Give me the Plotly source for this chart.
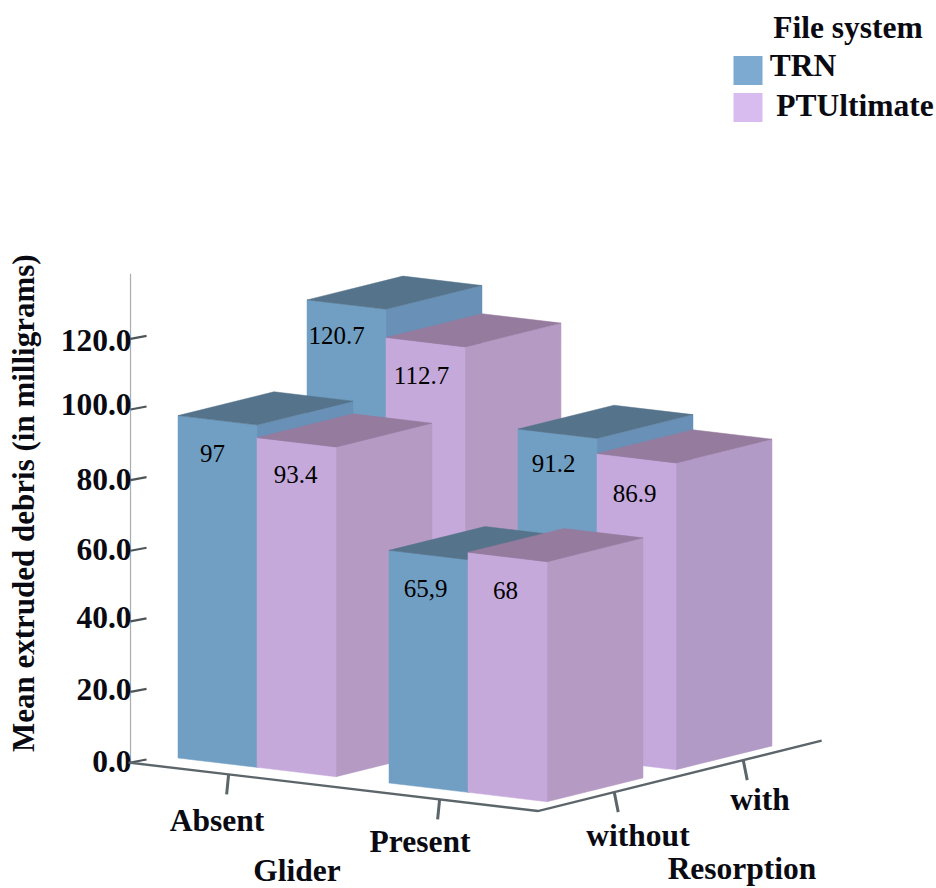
import plotly.graph_objects as go

# ---- data ----
GLIDER = ["Absent", "Present"]
RESORPTION = ["without", "with"]
FILE_SYSTEMS = ["TRN", "PTUltimate"]
TRN_WITHOUT = [97, 65.9]
TRN_WITH = [120.7, 91.2]
PT_WITHOUT = [93.4, 68]
PT_WITH = [112.7, 86.9]
TRN_LABELS = {"without": ["97", "65,9"], "with": ["120.7", "91.2"]}
PT_LABELS = {"without": ["93.4", "68"], "with": ["112.7", "86.9"]}
Y_TICKS = [0, 20, 40, 60, 80, 100, 120]
Y_TICK_TEXT = ["0.0", "20.0", "40.0", "60.0", "80.0", "100.0", "120.0"]
Y_TITLE = "Mean extruded debris (in milligrams)"
LEGEND_TITLE = "File system"

# ---- style ----
SERIF = "Liberation Serif"
BLUE = dict(front="#719fc3", side="#6990b6", top="#55738b")
PINK = dict(front="#c6a9db", side="#b59ac4", top="#957b9e")
PINK_RIGHT = dict(front="#c5a9dc", side="#b29ac6", top="#957b9e")
AXIS = "#5c666a"
INK = "#0a0a12"
BOLD_SIZE = 31.5
TICK_NUDGE = [2, 0, -1, 1, 2, -2, 4]
TEXT_SHIFT = 2

# ---- oblique projection: (glider pos, resorption pos, value) -> picture position ----
OX, OY = 178, 758
GX, GY = 211, 25
RX, RY = 129, -32
VY = 3.53
BAR_W, BAR_D = 0.3744, 0.744
FLOOR_X0, FLOOR_X1 = -0.1, 1.84
FLOOR_Y0, FLOOR_Y1 = -0.22, 1.98
Y_TOP = 138.5


def P(g, r, v=0.0):
    return OX + GX * g + RX * r, OY + GY * g + RY * r - VY * v


def poly(points, color, name):
    xs, ys = zip(*(points + points[:1]))
    return go.Scatter(x=xs, y=ys, mode="lines", fill="toself", fillcolor=color,
                      line=dict(color=color, width=0.5), hoverinfo="skip",
                      showlegend=False, name=name)


def line(points, color, width, name):
    xs, ys = zip(*points)
    return go.Scatter(x=xs, y=ys, mode="lines", line=dict(color=color, width=width),
                      hoverinfo="skip", showlegend=False, name=name)


def text(x, y, s, size, bold=False, color="black", name=None):
    return go.Scatter(x=[x], y=[y + TEXT_SHIFT], mode="text", text=[s], textposition="middle center",
                      textfont=dict(family=SERIF, size=size, color=color,
                                    weight="bold" if bold else "normal"),
                      cliponaxis=False, hoverinfo="skip", showlegend=False, name=name or s)


fig = go.Figure()

# y axis
x_axis0, y_axis0 = P(FLOOR_X0, FLOOR_Y0)
fig.add_trace(go.Scatter(x=[x_axis0 + 2, x_axis0 + 2], y=[y_axis0, y_axis0 - VY * Y_TOP], mode="lines",
                         line=dict(color="#a9adb0", width=1.2), hoverinfo="skip",
                         showlegend=False, name="y axis"))
for t, lab, nudge in zip(Y_TICKS, Y_TICK_TEXT, TICK_NUDGE):
    yy = y_axis0 - VY * t
    fig.add_trace(line([(x_axis0 + 2, yy), (x_axis0 + 18, yy - 3)], "#4d5558", 2.2, "tick " + lab))
    fig.add_trace(go.Scatter(x=[x_axis0 + 3], y=[yy + nudge], mode="text", text=[lab],
                             textposition="middle left",
                             textfont=dict(family=SERIF, size=BOLD_SIZE, color=INK, weight="bold"),
                             hoverinfo="skip", showlegend=False, name=lab))

# floor axes
fig.add_trace(line([P(FLOOR_X0, FLOOR_Y0), P(FLOOR_X1, FLOOR_Y0), P(FLOOR_X1, FLOOR_Y1)],
                   AXIS, 2.4, "floor axes"))
for i, g in enumerate(GLIDER):
    bx, by = P(i + BAR_W, FLOOR_Y0)
    fig.add_trace(line([(bx, by), (bx - 2, by + 20)], AXIS, 3, "tick " + g))
for j, r in enumerate(RESORPTION):
    bx, by = P(FLOOR_X1, j + BAR_D / 2)
    fig.add_trace(line([(bx, by), (bx + 4, by + 20)], AXIS, 3, "tick " + r))

# bars, back to front
BARS = [
    (1, 0, 0, TRN_WITH[0], BLUE, TRN_LABELS["with"][0], (-10, 31)),
    (1, 0, 1, PT_WITH[0], PINK, PT_LABELS["with"][0], (-4, 34)),
    (1, 1, 0, TRN_WITH[1], BLUE, TRN_LABELS["with"][1], (-4, 30)),
    (1, 1, 1, PT_WITH[1], PINK_RIGHT, PT_LABELS["with"][1], (-2, 35)),
    (0, 0, 0, TRN_WITHOUT[0], BLUE, TRN_LABELS["without"][0], (-5, 33)),
    (0, 0, 1, PT_WITHOUT[0], PINK, PT_LABELS["without"][0], (-1, 32)),
    (0, 1, 0, TRN_WITHOUT[1], BLUE, TRN_LABELS["without"][1], (-3, 34)),
    (0, 1, 1, PT_WITHOUT[1], PINK, PT_LABELS["without"][1], (-2, 34)),
]
for r, g, s, v, col, lab, (dx, dy) in BARS:
    x0 = g + s * BAR_W
    x1 = x0 + BAR_W
    y0 = r
    y1 = r + BAR_D
    nm = f"{GLIDER[g]} {RESORPTION[r]} {FILE_SYSTEMS[s]}"
    fig.add_trace(poly([P(x1, y0), P(x1, y1), P(x1, y1, v), P(x1, y0, v)], col["side"], nm + " side"))
    fig.add_trace(poly([P(x0, y0), P(x1, y0), P(x1, y0, v), P(x0, y0, v)], col["front"], nm + " front"))
    fig.add_trace(poly([P(x0, y0, v), P(x1, y0, v), P(x1, y1, v), P(x0, y1, v)], col["top"], nm + " top"))
    cx = (P(x0, y0, v)[0] + P(x1, y0, v)[0]) / 2 + dx
    cy = (P(x0, y0, v)[1] + P(x1, y0, v)[1]) / 2 + dy
    fig.add_trace(text(cx, cy, lab, 25, name="label " + lab))

# category labels
fig.add_trace(text(217, 821, GLIDER[0], BOLD_SIZE, True, INK))
fig.add_trace(text(420, 842, GLIDER[1], BOLD_SIZE, True, INK))
fig.add_trace(text(297, 871, "Glider", BOLD_SIZE, True, INK))
fig.add_trace(text(638, 836, RESORPTION[0], BOLD_SIZE, True, INK))
fig.add_trace(text(760, 800, RESORPTION[1], BOLD_SIZE, True, INK))
fig.add_trace(text(742, 869, "Resorption", BOLD_SIZE, True, INK))

# legend
fig.add_trace(text(848, 28, LEGEND_TITLE, BOLD_SIZE, True, INK))
fig.add_trace(go.Scatter(x=[748], y=[70.5], mode="markers", name=FILE_SYSTEMS[0], hoverinfo="skip",
                         marker=dict(symbol="square", size=29, color="#7caad0"), showlegend=False))
fig.add_trace(go.Scatter(x=[748], y=[107.5], mode="markers", name=FILE_SYSTEMS[1], hoverinfo="skip",
                         marker=dict(symbol="square", size=29, color="#d9bcef"), showlegend=False))
fig.add_trace(text(803, 66, FILE_SYSTEMS[0], BOLD_SIZE, True, INK))
fig.add_trace(text(855, 106, FILE_SYSTEMS[1], BOLD_SIZE, True, INK))

fig.update_layout(
    width=936, height=888, margin=dict(l=0, r=0, t=0, b=0),
    paper_bgcolor="white", plot_bgcolor="white", showlegend=False,
    xaxis=dict(range=[0, 936], visible=False, fixedrange=True),
    yaxis=dict(range=[888, 0], visible=False, fixedrange=True),
    annotations=[dict(x=23, y=503, xref="x", yref="y", text=Y_TITLE, textangle=-90, showarrow=False,
                      font=dict(family=SERIF, size=31, color=INK, weight="bold"))],
)
fig.write_html("out.html", post_script="document.body.style.margin='0';", config={"displayModeBar": False})
